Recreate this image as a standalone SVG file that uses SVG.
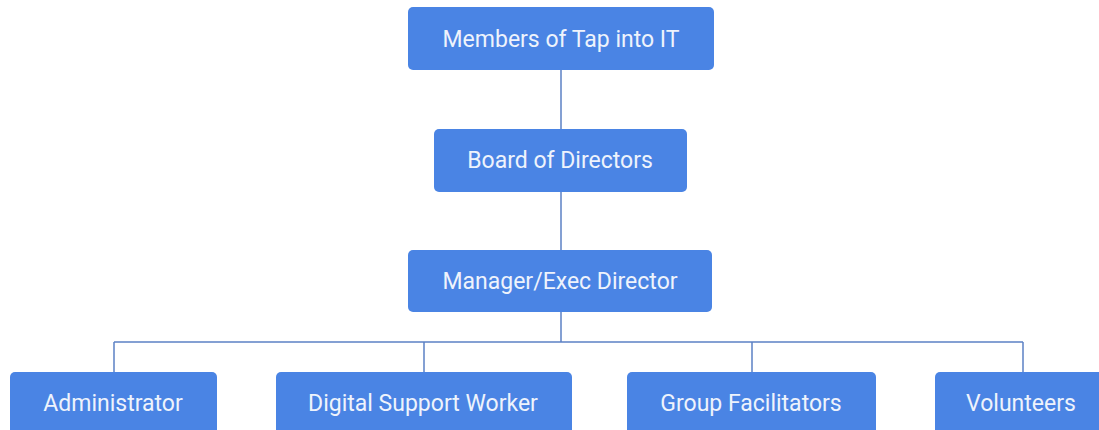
<svg xmlns="http://www.w3.org/2000/svg" width="1099" height="430" viewBox="0 0 1099 430">
  <style>
    .box { fill: #4a84e4; }
    .lbl { fill: #eef3fc; font-family: Roboto, "Liberation Sans", sans-serif; font-size: 23px; text-anchor: middle; dominant-baseline: central; }
    .link { stroke: #5b80c4; stroke-width: 1.5; fill: none; }
  </style>
  <rect width="1099" height="430" fill="#ffffff"/>
  <g id="connectors">
    <line class="link" x1="561" y1="70" x2="561" y2="129"/>
    <line class="link" x1="561" y1="192" x2="561" y2="250"/>
    <line class="link" x1="561" y1="312" x2="561" y2="342"/>
    <line class="link" x1="114" y1="342" x2="1023" y2="342"/>
    <line class="link" x1="114" y1="342" x2="114" y2="372"/>
    <line class="link" x1="424" y1="342" x2="424" y2="372"/>
    <line class="link" x1="752" y1="342" x2="752" y2="372"/>
    <line class="link" x1="1023" y1="342" x2="1023" y2="372"/>
  </g>
  <g id="members">
    <rect class="box" x="408" y="7" width="306" height="63" rx="5"/>
    <text class="lbl" x="561" y="39">Members of Tap into IT</text>
  </g>
  <g id="board">
    <rect class="box" x="434" y="129" width="253" height="63" rx="5"/>
    <text class="lbl" x="560" y="160">Board of Directors</text>
  </g>
  <g id="manager">
    <rect class="box" x="408" y="250" width="304" height="62" rx="5"/>
    <text class="lbl" x="560" y="281">Manager/Exec Director</text>
  </g>
  <g id="administrator">
    <rect class="box" x="10" y="372" width="207" height="70" rx="5"/>
    <text class="lbl" x="113" y="403">Administrator</text>
  </g>
  <g id="digital-support">
    <rect class="box" x="276" y="372" width="296" height="70" rx="5"/>
    <text class="lbl" x="423" y="403">Digital Support Worker</text>
  </g>
  <g id="facilitators">
    <rect class="box" x="627" y="372" width="249" height="70" rx="5"/>
    <text class="lbl" x="751" y="403">Group Facilitators</text>
  </g>
  <g id="volunteers">
    <rect class="box" x="935" y="372" width="175" height="70" rx="5"/>
    <text class="lbl" x="1021" y="403">Volunteers</text>
  </g>
</svg>
